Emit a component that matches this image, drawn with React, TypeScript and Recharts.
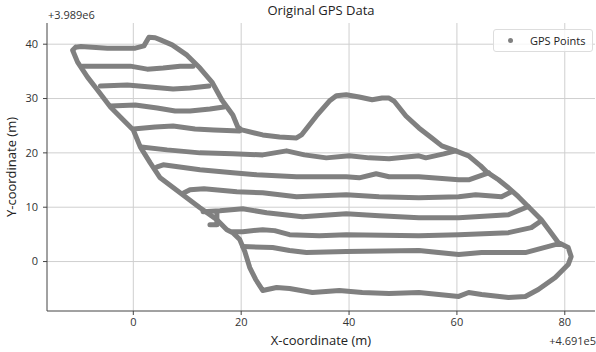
import React from "react"
import {
  ScatterChart,
  Scatter,
  XAxis,
  YAxis,
  CartesianGrid,
  Customized,
} from "recharts"

// offsets: x + 4.691e5, y + 3.989e6
const outerLoop = [
  { x: -10.7, y: 39.45 }, { x: -9.72, y: 39.58 }, { x: -4.8, y: 39.27 }, { x: -2.4, y: 39.27 },
  { x: 0.37, y: 39.27 }, { x: 1.97, y: 39.69 }, { x: 2.9, y: 41.28 }, { x: 4.06, y: 41.19 },
  { x: 5.04, y: 40.79 }, { x: 7.2, y: 39.87 }, { x: 9.96, y: 37.98 }, { x: 12.36, y: 35.6 },
  { x: 14.58, y: 33.03 }, { x: 16.42, y: 29.72 }, { x: 18.45, y: 26.97 }, { x: 19.37, y: 24.77 },
  { x: 20.11, y: 24.22 }, { x: 23.99, y: 23.3 }, { x: 27.12, y: 22.94 }, { x: 30.26, y: 22.75 },
  { x: 31.18, y: 23.3 }, { x: 33.95, y: 26.79 }, { x: 36.35, y: 29.54 }, { x: 37.64, y: 30.51 },
  { x: 39.48, y: 30.7 }, { x: 41.88, y: 30.28 }, { x: 44.28, y: 29.78 }, { x: 46.13, y: 30.09 },
  { x: 47.42, y: 30.09 }, { x: 48.34, y: 29.54 }, { x: 50.55, y: 26.79 }, { x: 52.95, y: 24.59 },
  { x: 55.35, y: 22.75 }, { x: 57.2, y: 21.28 }, { x: 59.78, y: 20.37 }, { x: 62.18, y: 19.45 },
  { x: 64.39, y: 17.61 }, { x: 65.5, y: 16.51 }, { x: 67.71, y: 15.05 }, { x: 69.56, y: 13.58 },
  { x: 71.4, y: 11.93 }, { x: 73.25, y: 10.09 }, { x: 75.65, y: 7.71 }, { x: 77.31, y: 5.5 },
  { x: 78.78, y: 3.49 }, { x: 80.63, y: 2.57 }, { x: 81.18, y: 0.92 }, { x: 80.63, y: -0.55 },
  { x: 78.23, y: -2.94 }, { x: 75.09, y: -5.14 }, { x: 72.69, y: -6.42 }, { x: 69.56, y: -6.61 },
  { x: 64.58, y: -6.06 }, { x: 62.18, y: -5.69 }, { x: 60.33, y: -6.42 }, { x: 52.95, y: -5.69 },
  { x: 47.42, y: -5.87 }, { x: 42.44, y: -5.69 }, { x: 38.19, y: -5.32 }, { x: 33.21, y: -5.69 },
  { x: 28.97, y: -4.95 }, { x: 26.57, y: -4.77 }, { x: 23.99, y: -5.32 }, { x: 22.69, y: -3.3 },
  { x: 21.59, y: -1.1 }, { x: 20.67, y: 1.84 }, { x: 19.74, y: 4.04 }, { x: 18.45, y: 5.32 },
  { x: 17.34, y: 5.87 }, { x: 15.5, y: 7.71 }, { x: 12.36, y: 9.91 }, { x: 8.67, y: 12.66 },
  { x: 4.98, y: 15.41 }, { x: 3.14, y: 18.17 }, { x: 1.29, y: 21.1 }, { x: 0, y: 24.22 },
  { x: -1.85, y: 26.06 }, { x: -4.24, y: 28.44 }, { x: -6.64, y: 31.56 }, { x: -8.49, y: 33.94 },
  { x: -10.33, y: 36.7 }, { x: -11.25, y: 38.9 }, { x: -10.7, y: 39.45 },
]

const rowA = [
  { x: -9.41, y: 35.96 }, { x: -5.17, y: 35.96 }, { x: -0.55, y: 35.96 }, { x: 2.58, y: 35.41 },
  { x: 5.54, y: 35.6 }, { x: 8.67, y: 35.96 }, { x: 11.07, y: 35.96 },
]
const rowB = [
  { x: -6.09, y: 32.29 }, { x: -1.11, y: 32.48 }, { x: 3.14, y: 32.11 }, { x: 7.38, y: 31.74 },
  { x: 10.52, y: 31.93 }, { x: 14.02, y: 32.29 },
]
const rowC = [
  { x: -4.24, y: 28.62 }, { x: 0.37, y: 28.81 }, { x: 4.43, y: 28.26 }, { x: 7.75, y: 27.71 },
  { x: 10.52, y: 27.71 }, { x: 14.21, y: 28.07 }, { x: 16.79, y: 28.44 },
]
const rowD = [
  { x: 0, y: 24.4 }, { x: 4.06, y: 24.77 }, { x: 7.38, y: 24.95 }, { x: 11.44, y: 24.4 },
  { x: 14.94, y: 24.22 }, { x: 19.74, y: 24.04 },
]
const rowE = [
  { x: 1.48, y: 21.1 }, { x: 6.27, y: 20.55 }, { x: 12.36, y: 20.0 }, { x: 18.45, y: 19.82 },
  { x: 23.99, y: 19.63 }, { x: 28.41, y: 20.37 }, { x: 31.73, y: 19.63 }, { x: 35.79, y: 19.08 },
  { x: 40.04, y: 19.45 }, { x: 43.73, y: 19.08 }, { x: 47.42, y: 18.9 }, { x: 52.95, y: 19.45 },
  { x: 54.24, y: 19.08 }, { x: 57.56, y: 19.82 }, { x: 59.78, y: 20.37 },
]
const rowF = [
  { x: 4.43, y: 17.43 }, { x: 5.54, y: 17.8 }, { x: 12.36, y: 16.88 }, { x: 18.45, y: 16.33 },
  { x: 22.88, y: 15.96 }, { x: 30.26, y: 15.6 }, { x: 39.48, y: 15.6 }, { x: 41.88, y: 15.41 },
  { x: 45.02, y: 16.15 }, { x: 47.42, y: 15.6 }, { x: 52.95, y: 15.6 }, { x: 60.33, y: 15.05 },
  { x: 62.18, y: 15.05 }, { x: 65.87, y: 16.33 },
]
const rowG = [
  { x: 9.41, y: 12.66 }, { x: 10.52, y: 13.21 }, { x: 13.1, y: 13.39 }, { x: 19.19, y: 12.84 },
  { x: 23.99, y: 12.66 }, { x: 30.26, y: 11.93 }, { x: 39.48, y: 12.29 }, { x: 45.57, y: 11.93 },
  { x: 52.95, y: 11.74 }, { x: 60.33, y: 11.93 }, { x: 63.47, y: 12.29 }, { x: 68.27, y: 11.93 },
  { x: 70.11, y: 12.84 },
]
const rowH = [
  { x: 12.92, y: 9.17 }, { x: 16.05, y: 9.36 }, { x: 20.3, y: 9.72 }, { x: 24.72, y: 8.99 },
  { x: 31.37, y: 8.26 }, { x: 39.48, y: 8.81 }, { x: 45.57, y: 8.44 }, { x: 52.95, y: 8.07 },
  { x: 60.33, y: 8.07 }, { x: 69.56, y: 8.62 }, { x: 72.69, y: 9.91 }, { x: 73.25, y: 10.09 },
]
const stub = [
  { x: 15.5, y: 9.17 }, { x: 15.5, y: 6.79 }, { x: 14.21, y: 6.79 },
]
const rowI = [
  { x: 18.45, y: 5.5 }, { x: 20.3, y: 5.5 }, { x: 23.99, y: 5.87 }, { x: 26.2, y: 5.69 },
  { x: 28.97, y: 4.95 }, { x: 34.5, y: 4.77 }, { x: 39.48, y: 4.95 }, { x: 52.95, y: 4.77 },
  { x: 60.33, y: 4.95 }, { x: 69.56, y: 5.32 }, { x: 73.8, y: 6.24 }, { x: 75.65, y: 7.52 },
]
const rowJ = [
  { x: 20.3, y: 2.75 }, { x: 25.83, y: 2.57 }, { x: 28.97, y: 2.02 }, { x: 32.1, y: 1.65 },
  { x: 39.48, y: 1.83 }, { x: 52.95, y: 2.02 }, { x: 60.33, y: 1.28 }, { x: 64.58, y: 1.65 },
  { x: 72.69, y: 1.65 }, { x: 78.23, y: 3.12 }, { x: 79.34, y: 3.12 },
]

const segments = [outerLoop, rowA, rowB, rowC, rowD, rowE, rowF, rowG, rowH, stub, rowI, rowJ]

const xTicks = [0, 20, 40, 60, 80]
const yTicks = [0, 10, 20, 30, 40]

const GRAY = "#808080"
const FONT = "'Open Sans', sans-serif"

const noDot = () => <g />

const Labels = () => (
  <g fontFamily={FONT}>
    <text x={321} y={15} textAnchor="middle" fontSize={13} fill="#222">Original GPS Data</text>
    <text x={48} y={19} fontSize={11} fill="#333">+3.989e6</text>
    <text x={321} y={345} textAnchor="middle" fontSize={13} fill="#222">X-coordinate (m)</text>
    <text x={596} y={345} textAnchor="end" fontSize={11} fill="#333">+4.691e5</text>
    <text x={16} y={167} textAnchor="middle" fontSize={13} fill="#222" transform="rotate(-90 16 167)">
      Y-coordinate (m)
    </text>
  </g>
)

export default function App() {
  return (
    <div style={{ position: "absolute", left: 0, top: 0, width: 596, height: 352, background: "#fff" }}>
      <ScatterChart width={596} height={352} margin={{ top: 23, right: 1, bottom: 0, left: 0 }}>
        <CartesianGrid stroke="#cfcfcf" strokeWidth={1} horizontalValues={yTicks} verticalValues={xTicks} />
        <XAxis
          type="number"
          dataKey="x"
          domain={[-16, 85.6]}
          ticks={xTicks}
          allowDataOverflow
          height={41}
          tickSize={4}
          tickMargin={3}
          stroke="#444"
          tick={{ fontSize: 11, fill: "#333", fontFamily: FONT }}
        />
        <XAxis xAxisId="top" type="number" orientation="top" domain={[-16, 85.6]} height={0} tick={false} tickLine={false} stroke="#444" />
        <YAxis
          type="number"
          dataKey="y"
          domain={[-9.1, 43.9]}
          ticks={yTicks}
          allowDataOverflow
          width={47}
          tickSize={4}
          tickMargin={5}
          stroke="#444"
          tick={{ fontSize: 11, fill: "#333", fontFamily: FONT }}
        />
        <YAxis yAxisId="right" type="number" orientation="right" domain={[-9.1, 43.9]} width={0} tick={false} tickLine={false} stroke="#444" />
        {segments.map((seg, i) => (
          <Scatter
            key={i}
            data={seg}
            fill={GRAY}
            shape={noDot}
            line={{ stroke: GRAY, strokeWidth: 5, strokeLinejoin: "round", strokeLinecap: "round" } as any}
            isAnimationActive={false}
          />
        ))}
        <Customized component={Labels} />
      </ScatterChart>
      <div
        style={{
          position: "absolute",
          left: 493,
          top: 29,
          width: 98,
          height: 21,
          border: "1px solid #ddd",
          borderRadius: 3,
          background: "rgba(255,255,255,0.8)",
          fontFamily: FONT,
          fontSize: 11,
          color: "#222",
          display: "flex",
          alignItems: "center",
        }}
      >
        <span style={{ width: 5, height: 5, borderRadius: "50%", background: GRAY, marginLeft: 14, marginRight: 17 }} />
        <span>GPS Points</span>
      </div>
    </div>
  )
}
